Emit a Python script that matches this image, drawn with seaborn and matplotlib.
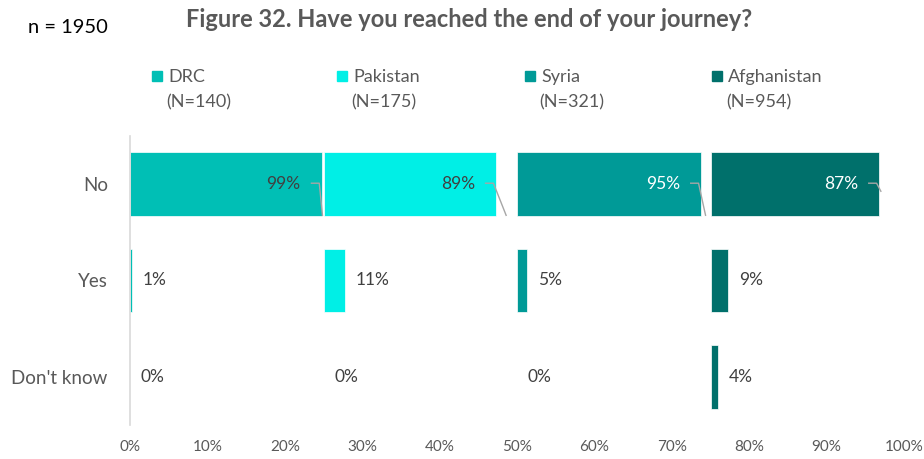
import matplotlib
matplotlib.use("Agg")
import matplotlib.pyplot as plt
import seaborn as sns
from matplotlib.patches import Rectangle

# chart data
responses = ["No", "Yes", "Don't know"]
countries = ["DRC", "Pakistan", "Syria", "Afghanistan"]
sizes = [140, 175, 321, 954]
drc = [99, 1, 0]
pakistan = [89, 11, 0]
syria = [95, 5, 0]
afghanistan = [87, 9, 4]
colors = ["#00BFB5", "#00EFE6", "#009A97", "#00706B"]
label_colors = ["#404040", "#404040", "white", "white"]
x_ticks = [0, 10, 20, 30, 40, 50, 60, 70, 80, 90, 100]

sns.set_theme(style="white")
plt.rcParams["font.family"] = ["Lato", "DejaVu Sans"]

GREY = "#595959"
TEXT = "#404040"

fig = plt.figure(figsize=(9.24, 4.59), dpi=100)
ax = fig.add_axes([0.1407, 0.0741, 0.8377, 0.6296])

series = [drc, pakistan, syria, afghanistan]
for i, vals in enumerate(series):
    # each country gets a quarter of the axis, bar length scaled to it
    offset = 25 * i
    scaled = [v / 4 for v in vals]
    sns.barplot(x=scaled, y=responses, color=colors[i], ax=ax, orient="h",
                left=offset, width=0.66, saturation=1,
                edgecolor="white", linewidth=0.5)

    for j, v in enumerate(vals):
        end = offset + v / 4
        if j == 0:
            ax.text(end - 2.7, j, f"{v}%", ha="right", va="center",
                    fontsize=12.5, color=label_colors[i])
            # leader line like the excel original
            spacer_mid = offset + 25 - (25 - v / 4) / 2 if i < 3 else end + 0.3
            y_end = 0.33 if i < 3 else 0.08
            ax.plot([end - 1.4, end - 0.3, spacer_mid], [-0.01, -0.01, y_end],
                    color="#A6A6A6", lw=1, solid_capstyle="butt")
        else:
            ax.text(end + 1.4, j, f"{v}%", ha="left", va="center",
                    fontsize=12.5, color=TEXT)

ax.set_xlim(0, 100)
ax.set_ylim(2.5, -0.5)
ax.set_xticks(x_ticks)
ax.set_xticklabels([f"{t}%" for t in x_ticks], fontsize=11, color=GREY)
ax.tick_params(axis="x", length=0, pad=11)
ax.tick_params(axis="y", length=0, pad=16, labelsize=13.5, labelcolor=GREY)
ax.set_xlabel("")
ax.set_ylabel("")
for side in ["top", "right", "bottom"]:
    ax.spines[side].set_visible(False)
ax.spines["left"].set_color("#D9D9D9")
ax.spines["left"].set_linewidth(1.2)

# titles
fig.text(0.508, 0.958, "Figure 32. Have you reached the end of your journey?",
         ha="center", va="center", fontsize=17, fontweight="bold", color=GREY)
fig.text(0.030, 0.941, "n = 1950", ha="left", va="center", fontsize=14.5,
         color="black")

# legend drawn by hand, two-line labels
leg_x = [152, 337, 525, 712]
W, H = 924, 459
for i, name in enumerate(countries):
    fig.patches.append(Rectangle((leg_x[i] / W, 1 - 81 / H), 10 / W, 10 / H,
                                 transform=fig.transFigure, color=colors[i]))
    fig.text((leg_x[i] + 16) / W, 1 - 77 / H, name, ha="left", va="center",
             fontsize=13, color=GREY)
    fig.text((leg_x[i] + 14) / W, 1 - 102 / H, f"(N={sizes[i]})", ha="left",
             va="center", fontsize=13, color=GREY)

fig.savefig("out.png", dpi=100)
